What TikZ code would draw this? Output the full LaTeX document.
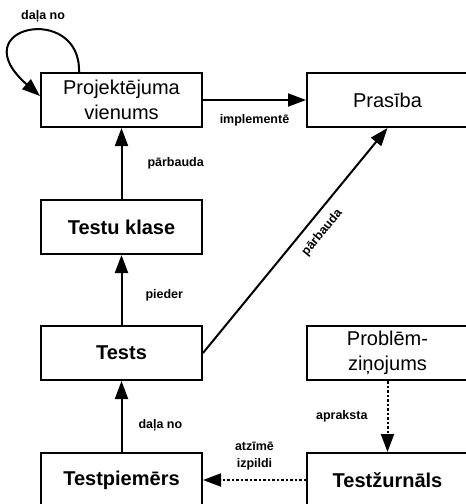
\documentclass[tikz,border=0pt]{standalone}
\usepackage{fontspec}
\setmainfont{Liberation Sans}
\usetikzlibrary{arrows.meta}

\tikzset{
    blk/.style={draw, line width=2pt, minimum width=161pt, minimum height=54pt, inner sep=2pt, align=center, font=\fontsize{20}{25}\selectfont},
    bblk/.style={blk, font=\fontsize{20}{25}\selectfont\bfseries},
    rel/.style={line width=2pt, -{Triangle[length=18pt,width=13pt]}},
    drel/.style={rel, dash pattern=on 2.5pt off 2pt},
    lbl/.style={font=\fontsize{12.5}{17}\selectfont\bfseries, inner sep=1pt, align=center},
}

\begin{document}
\begin{tikzpicture}[x=1pt, y=1pt]
    \useasboundingbox (0, 0) rectangle (466, -504);
    \node[blk] (pv) at (121.5, -100) {Projektējuma\\vienums};
    \node[blk] (pr) at (387.5, -100) {Prasība};
    \node[bblk] (tk) at (121.5, -227) {Testu klase};
    \node[bblk] (ts) at (121.5, -353) {Tests};
    \node[blk] (pz) at (387.5, -353) {Problēm-\\ziņojums};
    \node[bblk] (tp) at (121.5, -480) {Testpiemērs};
    \node[bblk] (tz) at (387.5, -480) {Testžurnāls};

    \draw[rel] ([xshift=39pt]pv.north west) .. controls +(2, 70) and +(-80, 70) .. ([yshift=4pt]pv.west) node[lbl, pos=0.4, above=6pt] {daļa no};
    \draw[rel] (pv) -- node[lbl, below=12pt] {implementē} (pr);
    \draw[rel] (tk) -- node[lbl, right=24pt] {pārbauda} (pv);
    \draw[rel] (ts) -- node[lbl, right=22pt, pos=0.42] {pieder} (tk);
    \draw[rel] (ts.east) -- node[lbl, sloped, below=8pt, pos=0.58] {pārbauda} (pr.south);
    \draw[rel] (tp) -- node[lbl, right=15pt, pos=0.38] {daļa no} (ts);
    \draw[drel] (pz) -- node[lbl, left=18pt] {apraksta} (tz);
    \draw[drel] (tz) -- node[lbl, above=8pt] {atzīmē\\izpildi} (tp);
\end{tikzpicture}
\end{document}
